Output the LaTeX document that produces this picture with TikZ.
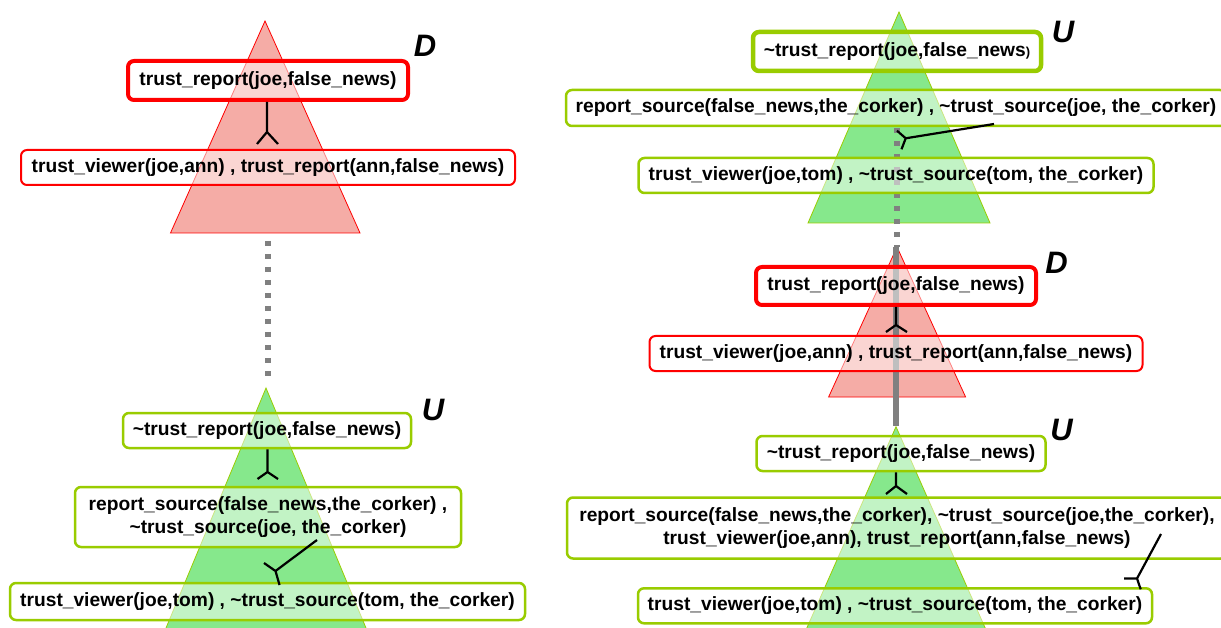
\documentclass[tikz,border=0pt]{standalone}
\usepackage{fontspec}
\setmainfont{Liberation Sans}
\definecolor{tred}{RGB}{255,0,0}
\definecolor{tredfill}{RGB}{245,172,166}
\definecolor{tgreen}{RGB}{153,204,0}
\definecolor{tgreenfill}{RGB}{134,232,140}
\definecolor{tgray}{RGB}{128,128,128}
\tikzset{
 lit/.style={rounded corners=6pt, fill=white, fill opacity=0.5, text opacity=1, inner sep=0pt, align=center, font=\fontsize{19.2}{23}\selectfont\bfseries},
 redbox/.style={lit, draw=tred, line width=2pt},
 redthick/.style={lit, draw=tred, line width=4pt},
 greenbox/.style={lit, draw=tgreen, line width=2.5pt},
 greenthick/.style={lit, draw=tgreen, line width=4.5pt},
 redtri/.style={fill=tredfill, draw=tred, line width=0.8pt},
 greentri/.style={fill=tgreenfill, draw=tgreen, line width=0.8pt},
 conn/.style={draw=black, line width=2.2pt},
 dotline/.style={draw=tgray, line width=5.5pt, dash pattern=on 5pt off 8pt},
 solidline/.style={draw=tgray, line width=5.5pt},
 tag/.style={font=\fontsize{31}{31}\selectfont\bfseries\itshape, inner sep=0pt},
}
\begin{document}
\begin{tikzpicture}[x=1pt,y=-1pt]
\useasboundingbox (0,0) rectangle (1221,628);
\fill[white] (0,0) rectangle (1221,628);
% ---------- triangles ----------
\path[redtri] (265,21) -- (170.5,233) -- (360,233) -- cycle;
\path[greentri] (266,388) -- (161,640) -- (371,640) -- cycle;
\path[greentri] (899,12) -- (808,223) -- (990,223) -- cycle;
\path[redtri] (897,247) -- (828.6,397) -- (965.6,397) -- cycle;
\path[greentri] (896,426.7) -- (801.5,640) -- (990.5,640) -- cycle;
% ---------- gray links ----------
\coordinate (lt) at (268,241);
\coordinate (lb) at (268,383);
\draw[dotline] (lt) -- (lb);
\coordinate (rt) at (897,128);
\coordinate (rm) at (897,247);
\coordinate (rb) at (896,426);
\draw[dotline] (rt) -- (rm);
\draw[solidline] (896,247) -- (rb);
% ---------- left panel boxes ----------
\node[redthick, minimum width=280, minimum height=39] (b1) at (268,80.5) {trust\_report(joe,false\_news)};
\node[redbox, minimum width=494, minimum height=35] (b2) at (268,167.5) {trust\_viewer(joe,ann) , trust\_report(ann,false\_news)};
\node[greenbox, minimum width=288, minimum height=35] (u1) at (267,430.5) {\textasciitilde trust\_report(joe,false\_news)};
\node[greenbox, minimum width=386, minimum height=60] (u2) at (268,517) {report\_source(false\_news,the\_corker) ,\\ \textasciitilde trust\_source(joe, the\_corker)};
\node[greenbox, minimum width=515, minimum height=37] (u3) at (267.5,601.5) {trust\_viewer(joe,tom) , \textasciitilde trust\_source(tom, the\_corker)};
% ---------- right panel boxes ----------
\node[greenthick, minimum width=288, minimum height=39] (r1) at (897,51.5) {\textasciitilde trust\_report(joe,false\_news{\fontsize{13}{13}\selectfont)}};
\node[greenbox, minimum width=660, minimum height=36] (r2) at (896,108) {report\_source(false\_news,the\_corker) , \textasciitilde trust\_source(joe, the\_corker)};
\node[greenbox, minimum width=515, minimum height=35] (r3) at (896,175.5) {trust\_viewer(joe,tom) , \textasciitilde trust\_source(tom, the\_corker)};
\node[redthick, minimum width=280, minimum height=38] (r4) at (896,286) {trust\_report(joe,false\_news)};
\node[redbox, minimum width=493, minimum height=35] (r5) at (896,353.5) {trust\_viewer(joe,ann) , trust\_report(ann,false\_news)};
\node[greenbox, minimum width=289, minimum height=35] (r6) at (901,453.5) {\textasciitilde trust\_report(joe,false\_news)};
\node[greenbox, minimum width=660, minimum height=61] (r7) at (897,528) {report\_source(false\_news,the\_corker), \textasciitilde trust\_source(joe,the\_corker),\\trust\_viewer(joe,ann), trust\_report(ann,false\_news)};
\node[greenbox, minimum width=514, minimum height=35] (r8) at (895,605.8) {trust\_viewer(joe,tom) , \textasciitilde trust\_source(tom, the\_corker)};
% ---------- connectors ----------
\coordinate (f1) at (267,132);
\draw[conn] (b1.south -| f1) -- (f1) -- ++(-10,12) (f1) -- ++(11,12);
\coordinate (f2) at (267.5,472);
\draw[conn] (u1.south -| f2) -- (f2) -- ++(-10,7) (f2) -- ++(10.5,7);
\coordinate (f3) at (275.5,571);
\coordinate (a3) at (317,540);
\coordinate (e3) at (264,563);
\coordinate (s3) at (279.5,585);
\draw[conn] (a3) -- (f3) -- (e3) (f3) -- (s3);
\coordinate (f4) at (905.7,138.3);
\coordinate (a4) at (994,124);
\coordinate (e4) at (897,130.7);
\coordinate (s4) at (901.5,149.3);
\draw[conn] (a4) -- (f4) -- (e4) (f4) -- (s4);
\coordinate (f5) at (896,325);
\draw[conn] (r4.south -| f5) -- (f5) -- ++(-10,7) (f5) -- ++(11,7);
\coordinate (f6) at (896,486);
\draw[conn] (r6.south -| f6) -- (f6) -- ++(-10,8) (f6) -- ++(11,8);
\coordinate (f7) at (1137,578.5);
\coordinate (a7) at (1161,534);
\coordinate (e7) at (1124,578.5);
\coordinate (s7) at (1140.7,589.3);
\draw[conn] (a7) -- (f7) -- (e7) (f7) -- (s7);
% ---------- tags ----------
\node[tag] (tD1) at (425,46) {D};
\node[tag] (tU1) at (433,410) {U};
\node[tag] (tU2) at (1063,31.5) {U};
\node[tag] (tD2) at (1056.5,262.5) {D};
\node[tag] (tU3) at (1061.5,430) {U};
\end{tikzpicture}
\end{document}
